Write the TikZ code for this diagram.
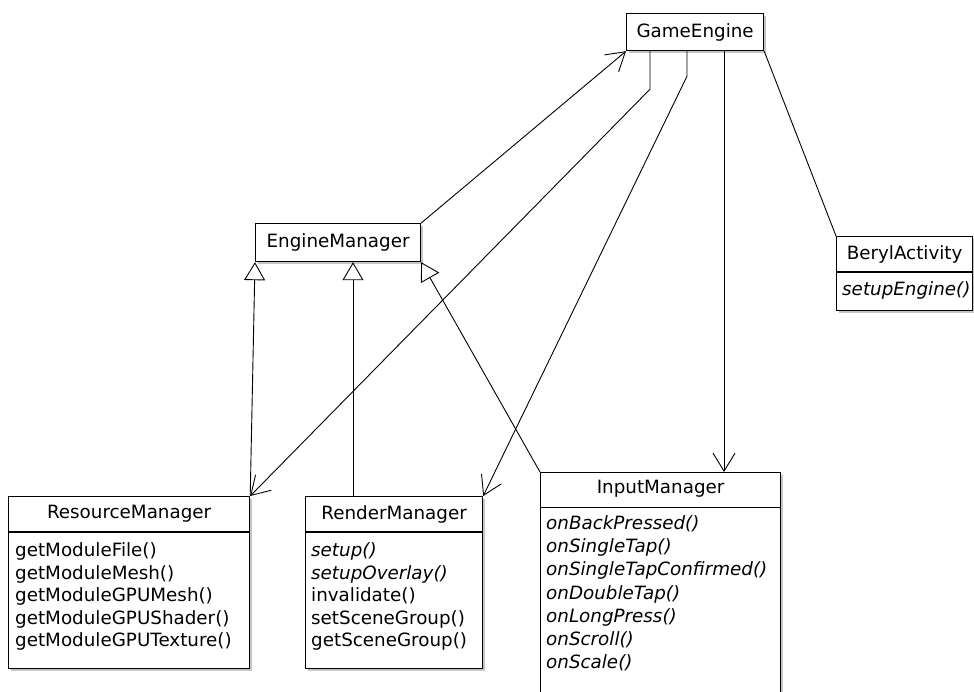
\documentclass[tikz,border=0pt]{standalone}
\usepackage{fontspec}
\setmainfont{DejaVu Sans}
\usetikzlibrary{arrows.meta,shadows}

\begin{document}
\begin{tikzpicture}[x=1pt,y=-1pt,
  every node/.style={font=\fontsize{18.3}{22}\selectfont},
  classbox/.style={draw, line width=1.2pt, fill=white, inner sep=0pt,
    drop shadow={shadow xshift=2.5pt, shadow yshift=-2.5pt, fill=black!45, opacity=0.5}},
  title/.style={inner sep=0pt},
  method/.style={inner sep=0pt, anchor=base west},
  abstract/.style={method, font=\fontsize{18.3}{22}\selectfont\itshape},
  divider/.style={line width=1.2pt},
  assoc/.style={line width=0.9pt, -{Straight Barb[length=18pt,width=22pt,line width=0.9pt]}},
  inherit/.style={line width=0.9pt, -{Triangle[open,length=18pt,width=21pt,line width=0.9pt]}},
  plain/.style={line width=0.9pt}
]
\useasboundingbox (0,0) rectangle (974,691);
\clip (0,0) rectangle (974,691);

% ---- class boxes ----
\node[classbox, anchor=north west, minimum width=137pt, minimum height=37pt] (ge) at (626,13) {};
\node[title] (geT) at (ge.center) {GameEngine};

\node[classbox, anchor=north west, minimum width=165pt, minimum height=38pt] (em) at (255,223) {};
\node[title] (emT) at (em.center) {EngineManager};

\node[classbox, anchor=north west, minimum width=136pt, minimum height=74pt] (ba) at (836,236) {};
\node[title] (baT) at ([yshift=-18pt]ba.north) {BerylActivity};
\draw[divider] ([yshift=-36pt]ba.north west) -- ([yshift=-36pt]ba.north east);
\node[abstract] (ba1) at (842,295) {setupEngine()};

\node[classbox, anchor=north west, minimum width=241pt, minimum height=172pt] (rm) at (8,496) {};
\node[title] (rmT) at ([yshift=-18pt]rm.north) {ResourceManager};
\draw[divider] ([yshift=-36pt]rm.north west) -- ([yshift=-36pt]rm.north east);
\node[method] (rm1) at (15,556.5) {getModuleFile()};
\node[method] (rm2) at (15,579)   {getModuleMesh()};
\node[method] (rm3) at (15,601.5) {getModuleGPUMesh()};
\node[method] (rm4) at (15,624)   {getModuleGPUShader()};
\node[method] (rm5) at (15,646.5) {getModuleGPUTexture()};

\node[classbox, anchor=north west, minimum width=177pt, minimum height=172pt] (rnm) at (305,496) {};
\node[title] (rnmT) at ([yshift=-18pt]rnm.north) {RenderManager};
\draw[divider] ([yshift=-36pt]rnm.north west) -- ([yshift=-36pt]rnm.north east);
\node[abstract] (rnm1) at (311,556.5) {setup()};
\node[abstract] (rnm2) at (311,579)   {setupOverlay()};
\node[method]   (rnm3) at (311,601.5) {invalidate()};
\node[method]   (rnm4) at (311,624)   {setSceneGroup()};
\node[method]   (rnm5) at (311,646.5) {getSceneGroup()};

\node[classbox, anchor=north west, minimum width=240pt, minimum height=240pt] (im) at (540,472) {};
\node[title] (imT) at ([yshift=-17pt]im.north) {InputManager};
\draw[divider] ([yshift=-35.5pt]im.north west) -- ([yshift=-35.5pt]im.north east);
\node[abstract] (im1) at (546,529.5) {onBackPressed()};
\node[abstract] (im2) at (546,552.7) {onSingleTap()};
\node[abstract] (im3) at (546,575.9) {onSingleTapConfirmed()};
\node[abstract] (im4) at (546,599.1) {onDoubleTap()};
\node[abstract] (im5) at (546,622.3) {onLongPress()};
\node[abstract] (im6) at (546,645.5) {onScroll()};
\node[abstract] (im7) at (546,668.7) {onScale()};

% ---- connectors ----
\draw[assoc] (em.north east) -- (ge.south west);
\draw[assoc] ([xshift=24pt]ge.south west) -- ++(0,38) -- (rm.north east);
\draw[assoc] ([xshift=61pt]ge.south west) -- ++(0,25) -- (rnm.north east);
\draw[assoc] ([xshift=98pt]ge.south west) -- ([xshift=98pt]ge.south west |- im.north);
\draw[plain] (ge.south east) -- (ba.north west);

\draw[inherit] (rm.north east) -- (em.south west);
\draw[inherit] ([xshift=98pt]em.south west |- rnm.north) -- ([xshift=98pt]em.south west);
\draw[inherit] (im.north west) -- (em.south east);
\end{tikzpicture}
\end{document}
